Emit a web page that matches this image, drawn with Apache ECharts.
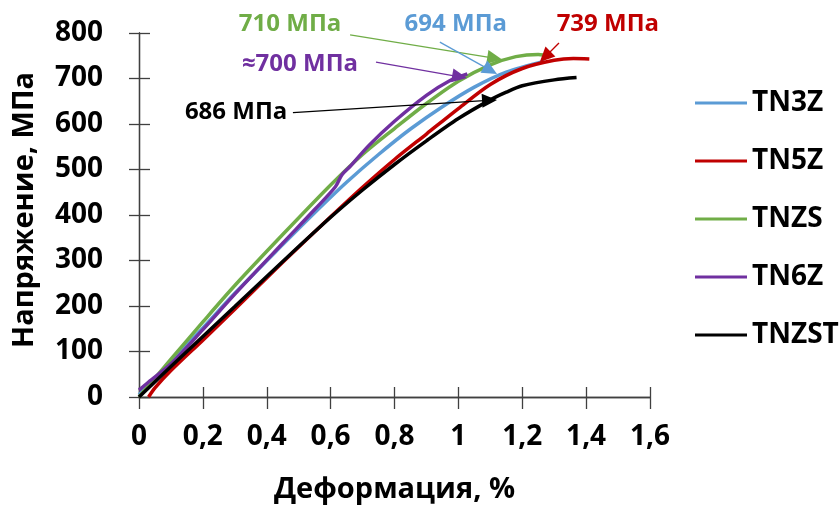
<!DOCTYPE html>
<html>
<head>
<meta charset="utf-8">
<script src="https://cdn.jsdelivr.net/npm/echarts@6/dist/echarts.min.js"></script>
<style>
  html, body { margin: 0; padding: 0; background: #fff; }
  #chart { width: 840px; height: 510px; }
</style>
</head>
<body>
<div id="chart"></div>
<script>
// Stress–strain curves of the alloys (strain, %; stress, MPa)
const seriesNames = ['TN3Z', 'TN5Z', 'TNZS', 'TN6Z', 'TNZST'];
const seriesColors = ['#5B9BD5', '#C00000', '#70AD47', '#7030A0', '#000000'];

const tn3zStrain = [0, 0.1, 0.2, 0.3, 0.45, 0.55, 0.65, 0.75, 0.85, 0.95, 1.05, 1.15, 1.27];
const tn3zStress = [5, 78, 152, 228, 335, 405, 472, 533, 589, 638, 681, 714, 738];

const tn5zStrain = [0.03, 0.05, 0.1, 0.2, 0.3, 0.45, 0.6, 0.7, 0.8, 0.9, 1.0, 1.1, 1.2, 1.3, 1.36, 1.41];
const tn5zStress = [0, 20, 58, 125, 193, 296, 396, 461, 522, 578, 634, 687, 722, 740, 744, 743];

const tnzsStrain = [0, 0.1, 0.2, 0.3, 0.45, 0.6, 0.7, 0.8, 0.9, 1.0, 1.1, 1.18, 1.25, 1.29];
const tnzsStress = [0, 83, 165, 245, 357, 466, 533, 590, 645, 694, 730, 748, 753, 748];

const tn6zStrain = [0, 0.03, 0.1, 0.2, 0.3, 0.45, 0.55, 0.615, 0.635, 0.66, 0.72, 0.8, 0.9, 0.97, 1.028];
const tn6zStress = [15, 33, 73, 148, 226, 338, 412, 462, 488, 506, 553, 606, 663, 694, 710];

const tnzstStrain = [0, 0.1, 0.2, 0.3, 0.45, 0.6, 0.7, 0.8, 0.9, 1.0, 1.1, 1.15, 1.2, 1.3, 1.37];
const tnzstStress = [0, 67, 133, 199, 298, 395, 455, 511, 563, 612, 653, 670, 684, 697, 702];

// Annotations: text, text position, arrow start and arrow tip (data units)
const noteTexts  = ['710 МПа', '694 МПа', '739 МПа', '≈700 МПа', '686 МПа'];
const noteColors = ['#70AD47', '#5B9BD5', '#C00000', '#7030A0', '#000000'];
const noteTextAt = [[0.473, 820], [0.992, 820], [1.468, 820], [0.504, 732], [0.304, 626]];
const noteFrom   = [[0.661, 796], [0.942, 780], [1.315, 778], [0.742, 736], [0.482, 625]];
const noteTo     = [[1.137, 742], [1.121, 710], [1.255, 736], [1.027, 701], [1.121, 653]];

const xTicks = { min: 0, max: 1.6, interval: 0.2 };
const yTicks = { min: 0, max: 800, interval: 100 };

const FONT = '"Open Sans", "Noto Sans", sans-serif';
const AXIS_COLOR = '#404040';

function pairs(xs, ys) { return xs.map((x, i) => [x, ys[i]]); }
const seriesData = [
  pairs(tn3zStrain, tn3zStress),
  pairs(tn5zStrain, tn5zStress),
  pairs(tnzsStrain, tnzsStress),
  pairs(tn6zStrain, tn6zStress),
  pairs(tnzstStrain, tnzstStress)
];

const chart = echarts.init(document.getElementById('chart'), null, { renderer: 'canvas' });

function baseAxis(extra) {
  return Object.assign({
    type: 'value',
    axisLine: { show: true, onZero: false, lineStyle: { color: AXIS_COLOR, width: 1.3 } },
    splitLine: { show: false }
  }, extra);
}

const option = {
  animation: false,
  backgroundColor: '#ffffff',
  textStyle: { fontFamily: FONT },
  grid: { left: 139, right: 190, top: 33, bottom: 113, containLabel: false },
  xAxis: [
    baseAxis({
      min: xTicks.min, max: xTicks.max, interval: xTicks.interval,
      name: 'Деформация, %', nameLocation: 'middle', nameGap: 78,
      nameTextStyle: { fontFamily: FONT, fontWeight: 'bold', fontSize: 29, color: '#000' },
      axisTick: { show: true, inside: false, length: 12, lineStyle: { color: AXIS_COLOR, width: 1.3 } },
      axisLabel: {
        margin: 26, fontFamily: FONT, fontWeight: 'bold', fontSize: 28, color: '#000',
        formatter: v => String(Math.round(v * 10) / 10).replace('.', ',')
      }
    }),
    baseAxis({
      min: xTicks.min, max: xTicks.max, interval: xTicks.interval, position: 'bottom',
      axisTick: { show: true, inside: true, length: 10, lineStyle: { color: AXIS_COLOR, width: 1.3 } },
      axisLabel: { show: false }
    })
  ],
  yAxis: [
    baseAxis({
      min: yTicks.min, max: yTicks.max, interval: yTicks.interval,
      name: 'Напряжение, МПа', nameLocation: 'middle', nameGap: 100,
      nameTextStyle: { fontFamily: FONT, fontWeight: 'bold', fontSize: 29, color: '#000', padding: [0, 0, 0, 10] },
      axisTick: { show: true, inside: false, length: 10, lineStyle: { color: AXIS_COLOR, width: 1.3 } },
      axisLabel: { margin: 36, fontFamily: FONT, fontWeight: 'bold', fontSize: 28, color: '#000' }
    }),
    baseAxis({
      min: yTicks.min, max: yTicks.max, interval: yTicks.interval, position: 'left',
      axisTick: { show: true, inside: true, length: 11, lineStyle: { color: AXIS_COLOR, width: 1.3 } },
      axisLabel: { show: false }
    })
  ],
  legend: {
    orient: 'vertical', left: 690, top: 83,
    icon: 'rect', itemWidth: 52, itemHeight: 3, itemGap: 28,
    data: seriesNames,
    textStyle: { fontFamily: FONT, fontWeight: 'bold', fontSize: 28, color: '#000', lineHeight: 30 }
  },
  series: seriesNames.map((name, i) => ({
    name: name,
    type: 'line',
    xAxisIndex: 0, yAxisIndex: 0,
    data: seriesData[i],
    smooth: 0.3,
    symbol: 'none',
    clip: false,
    z: 2 + i,
    lineStyle: { color: seriesColors[i], width: 3.5 },
    itemStyle: { color: seriesColors[i] }
  }))
};

chart.setOption(option);

// Annotation arrows and texts, placed through the chart's own coordinate conversion
function toPx(p) { return chart.convertToPixel({ xAxisIndex: 0, yAxisIndex: 0 }, p); }
const graphics = [];
noteTexts.forEach((txt, i) => {
  const a = toPx(noteFrom[i]);
  const b = toPx(noteTo[i]);
  const dx = b[0] - a[0], dy = b[1] - a[1];
  const len = Math.hypot(dx, dy);
  const ux = dx / len, uy = dy / len;
  const hl = 15, hw = 7;
  const bx = b[0] - ux * hl, by = b[1] - uy * hl;
  graphics.push({
    type: 'line', z: 100,
    shape: { x1: a[0], y1: a[1], x2: bx + ux * 2, y2: by + uy * 2 },
    style: { stroke: noteColors[i], lineWidth: 1.3 }
  });
  graphics.push({
    type: 'polygon', z: 100,
    shape: { points: [[b[0], b[1]], [bx - uy * hw, by + ux * hw], [bx + uy * hw, by - ux * hw]] },
    style: { fill: noteColors[i] }
  });
  const t = toPx(noteTextAt[i]);
  graphics.push({
    type: 'text', z: 100, x: t[0], y: t[1],
    style: {
      text: txt, fill: noteColors[i], font: 'bold 24px ' + FONT,
      align: 'center', verticalAlign: 'middle'
    }
  });
});
chart.setOption({ graphic: graphics });
</script>
</body>
</html>
